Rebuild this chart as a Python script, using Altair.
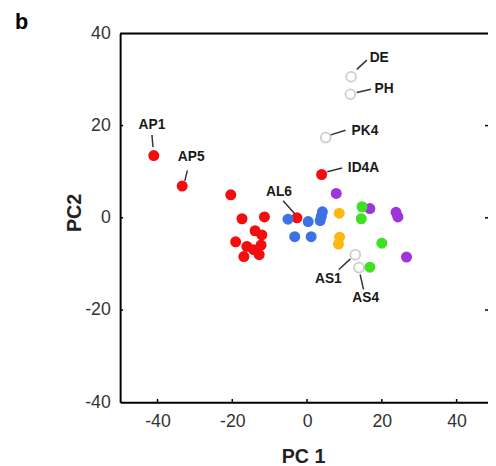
import altair as alt
import pandas as pd

# ---- data ----
red_x = [-41.0, -33.4, -20.4, -17.4, -11.4, -2.7, 3.9, -13.9, -12.1, -19.1, -16.1, -12.3, -14.3, -16.9, -12.8]
red_y = [13.5, 6.9, 5.0, -0.2, 0.2, 0.0, 9.4, -2.8, -3.7, -5.2, -6.2, -5.9, -6.9, -8.4, -8.0]
blue_x = [-5.1, 0.3, 4.1, 3.8, 3.5, -3.3, 1.1]
blue_y = [-0.3, -0.8, 1.3, 0.3, -0.6, -4.1, -4.1]
orange_x = [8.6, 8.7, 8.4]
orange_y = [1.0, -4.2, -5.7]
purple_x = [7.8, 16.8, 23.8, 24.3, 26.6]
purple_y = [5.3, 2.0, 1.2, 0.2, -8.5]
green_x = [14.7, 14.5, 20.0, 16.8]
green_y = [2.4, -0.2, -5.5, -10.7]
open_x = [11.8, 11.6, 5.0, 12.9, 13.9]
open_y = [30.6, 26.8, 17.4, -8.0, -10.8]

label_names = ["DE", "PH", "PK4", "ID4A", "AP1", "AP5", "AL6", "AS1", "AS4"]
label_x = [19.3, 20.6, 15.5, 15.1, -41.5, -31.0, -7.5, 5.7, 15.7]
label_y = [34.7, 27.9, 18.8, 10.7, 20.2, 13.1, 5.5, -13.3, -17.5]
lead_x1 = [13.3, 13.3, 6.3, 5.4, -41.2, -32.7, -3.3, 11.6, 14.2]
lead_y1 = [32.2, 27.2, 18.0, 10.0, 15.3, 8.0, 0.9, -8.9, -12.3]
lead_x2 = [16.0, 17.1, 10.3, 9.4, -41.5, -32.0, -6.4, 8.5, 15.1]
lead_y2 = [34.2, 27.9, 19.0, 10.8, 18.0, 10.3, 3.7, -11.2, -15.5]

x_ticks = [-40, -20, 0, 20, 40]
y_ticks = [-40, -20, 0, 20, 40]
x_dom = [-50, 48.4]
y_dom = [-40, 40]

groups = [("red", red_x, red_y), ("blue", blue_x, blue_y), ("orange", orange_x, orange_y),
          ("purple", purple_x, purple_y), ("green", green_x, green_y)]
rows = []
for g, xs_, ys_ in groups:
    for a, b in zip(xs_, ys_):
        rows.append({"g": g, "x": a, "y": b})
pts = pd.DataFrame(rows)
opn = pd.DataFrame({"x": open_x, "y": open_y})
lab = pd.DataFrame({"name": label_names, "x": label_x, "y": label_y})
lead = pd.DataFrame({"x": lead_x1, "y": lead_y1, "x2": lead_x2, "y2": lead_y2})

# inward tick marks and the top edge of the frame
tk = []
for v in x_ticks:
    tk.append({"x": v, "x2": v, "y": y_dom[0], "y2": y_dom[0] + 0.7, "w": 1.5})
for v in y_ticks[1:-1]:
    tk.append({"x": x_dom[0], "x2": x_dom[0] + 0.8, "y": v, "y2": v, "w": 1.5})
    tk.append({"x": x_dom[1] - 0.8, "x2": x_dom[1], "y": v, "y2": v, "w": 1.5})
tk.append({"x": x_dom[0], "x2": x_dom[1], "y": y_dom[1], "y2": y_dom[1], "w": 2})
ticks = pd.DataFrame(tk)

FONT = "Liberation Sans"
xs = alt.Scale(domain=x_dom, nice=False, zero=False)
ys = alt.Scale(domain=y_dom, nice=False, zero=False)

xaxis = alt.Axis(values=x_ticks, title="PC 1", grid=False, ticks=False, labelPadding=11,
                 labelExpr="datum.value",
                 domainColor="black", domainWidth=2, labelFontSize=18, labelColor="#333333",
                 labelFont=FONT, titleFont=FONT, titleFontSize=20, titleFontWeight="bold",
                 titleColor="#222222", titleX=186, titleY=55, titleBaseline="middle")
yaxis = alt.Axis(values=y_ticks, title="PC2", grid=False, ticks=False, labelPadding=10,
                 labelExpr="datum.value",
                 domainColor="black", domainWidth=2, labelFontSize=18, labelColor="#333333",
                 labelFont=FONT, titleFont=FONT, titleFontSize=20, titleFontWeight="bold",
                 titleColor="#222222", titleX=-46, titleY=182, titleAlign="center",
                 titleBaseline="middle", titleAngle=270)

color_scale = alt.Scale(domain=["red", "blue", "orange", "purple", "green"],
                        range=["#f40d0d", "#3d72e6", "#fbb810", "#9d34dc", "#3ee024"])

points = alt.Chart(pts).mark_circle(size=125, opacity=1).encode(
    x=alt.X("x:Q", scale=xs, axis=xaxis),
    y=alt.Y("y:Q", scale=ys, axis=yaxis),
    color=alt.Color("g:N", scale=color_scale, legend=None),
)

open_pts = alt.Chart(opn).mark_point(shape="circle", size=100, filled=False,
                                     stroke="#b8b8b8", strokeWidth=1.8).encode(
    x=alt.X("x:Q", scale=xs), y=alt.Y("y:Q", scale=ys))

leaders = alt.Chart(lead).mark_rule(color="#333333", strokeWidth=1.5).encode(
    x=alt.X("x:Q", scale=xs), y=alt.Y("y:Q", scale=ys), x2="x2:Q", y2="y2:Q")

labels = alt.Chart(lab).mark_text(font=FONT, fontSize=14, fontWeight="bold",
                                  color="#1a1a1a", align="center", baseline="middle").encode(
    x=alt.X("x:Q", scale=xs), y=alt.Y("y:Q", scale=ys), text="name:N")

tickmarks = alt.Chart(ticks).mark_rule(color="black").encode(
    x=alt.X("x:Q", scale=xs), y=alt.Y("y:Q", scale=ys), x2="x2:Q", y2="y2:Q",
    strokeWidth=alt.StrokeWidth("w:Q", scale=None, legend=None))

chart = alt.layer(points, open_pts, leaders, labels, tickmarks).properties(
    width=374, height=375,
    autosize=alt.AutoSizeParams(type="none"),
    padding={"left": 114, "top": 22, "right": 0, "bottom": 62},
    title=alt.TitleParams("b", anchor="start", frame="group", dx=-107, dy=14,
                          font=FONT, fontSize=22, fontWeight="bold", color="black"),
).configure_view(stroke=None).configure(background="white")

chart.save("out.html", embed_options={"renderer": "svg", "actions": False})
